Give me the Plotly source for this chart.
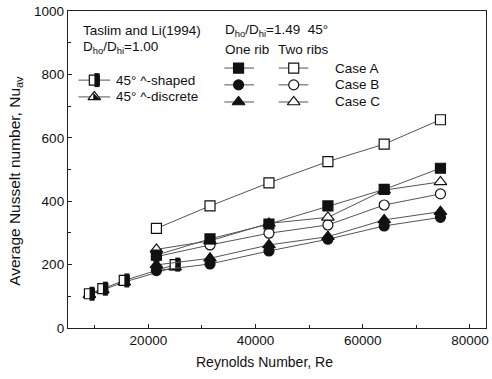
import plotly.graph_objects as go

# ---------------- data ----------------
re_cases = [21500, 31500, 42500, 53500, 64000, 74500]
one_rib_A = [230, 281, 328, 385, 437, 504]
one_rib_B = [181, 202, 243, 280, 322, 349]
one_rib_C = [199, 220, 262, 288, 341, 367]
two_ribs_A = [314, 385, 458, 525, 580, 657]
two_ribs_B = [225, 262, 299, 325, 388, 423]
two_ribs_C = [248, 275, 330, 349, 435, 461]

re_taslim = [9000, 11500, 15500, 25000]
taslim_shaped = [108, 124, 150, 200]
taslim_discrete = [105, 120, 145, 192]

x_ticks = [20000, 40000, 60000, 80000]
y_ticks = [0, 200, 400, 600, 800, 1000]

X_RANGE = [5000, 83000]
Y_RANGE = [0, 1000]

FONT = "Liberation Sans, Arial, sans-serif"
LINE_C = "#555555"
INK = "#111111"

fig = go.Figure()

plot_w_px = 421.5
dx = 2.6 * (X_RANGE[1] - X_RANGE[0]) / plot_w_px


def add_series(x, y, symbol, filled, size=10):
    fig.add_trace(go.Scatter(
        x=x, y=y, mode="lines+markers",
        line=dict(color=LINE_C, width=1),
        marker=dict(symbol=symbol, size=size,
                    color=INK if filled else "white",
                    line=dict(color=INK, width=1.2)),
        showlegend=False, hoverinfo="skip"))


def add_half_square(x, y, xa="x", ya="y", size=10):
    fig.add_trace(go.Scatter(
        x=x, y=y, xaxis=xa, yaxis=ya, mode="markers",
        marker=dict(symbol="square", size=size, color="white",
                    line=dict(color=INK, width=1.2)),
        showlegend=False, hoverinfo="skip"))
    fig.add_trace(go.Scatter(
        x=[v + (dx if xa == "x" else 2.6 / plot_w_px) for v in x], y=y,
        xaxis=xa, yaxis=ya, mode="markers",
        marker=dict(symbol="line-ns", size=size, color=INK,
                    line=dict(color=INK, width=5)),
        showlegend=False, hoverinfo="skip"))


def add_half_triangle(x, y, xa="x", ya="y", size=11):
    fig.add_trace(go.Scatter(
        x=x, y=y, xaxis=xa, yaxis=ya, mode="markers",
        marker=dict(symbol="triangle-up", size=size, color="white",
                    line=dict(color=INK, width=1.2)),
        showlegend=False, hoverinfo="skip"))
    off = (1.0 * (X_RANGE[1] - X_RANGE[0]) / plot_w_px) if xa == "x" else 1.0 / plot_w_px
    fig.add_trace(go.Scatter(
        x=[v + off for v in x], y=y, xaxis=xa, yaxis=ya, mode="markers",
        marker=dict(symbol="triangle-sw", size=size * 0.62, color=INK,
                    line=dict(color=INK, width=0)),
        showlegend=False, hoverinfo="skip"))


# Taslim & Li lines
fig.add_trace(go.Scatter(x=re_taslim, y=taslim_shaped, mode="lines",
                         line=dict(color=LINE_C, width=1),
                         showlegend=False, hoverinfo="skip"))
fig.add_trace(go.Scatter(x=re_taslim, y=taslim_discrete, mode="lines",
                         line=dict(color=LINE_C, width=1),
                         showlegend=False, hoverinfo="skip"))
add_half_triangle(re_taslim, taslim_discrete)
add_half_square(re_taslim, taslim_shaped)

# present cases
add_series(re_cases, two_ribs_A, "square", False)
add_series(re_cases, two_ribs_B, "circle", False)
add_series(re_cases, two_ribs_C, "triangle-up", False, 11)
add_series(re_cases, one_rib_B, "circle", True)
add_series(re_cases, one_rib_C, "triangle-up", True, 11)
add_series(re_cases, one_rib_A, "square", True)

# ---------------- legend (overlay axis, fractions of plot area) ----------------
def legend_line(x0, x1, y):
    fig.add_trace(go.Scatter(x=[x0, x1], y=[y, y], xaxis="x2", yaxis="y2",
                             mode="lines", line=dict(color=LINE_C, width=1),
                             showlegend=False, hoverinfo="skip"))


def legend_marker(x, y, symbol, filled, size=10):
    fig.add_trace(go.Scatter(x=[x], y=[y], xaxis="x2", yaxis="y2", mode="markers",
                             marker=dict(symbol=symbol, size=size,
                                         color=INK if filled else "white",
                                         line=dict(color=INK, width=1.2)),
                             showlegend=False, hoverinfo="skip"))


legend_line(0.025, 0.101, 0.782)
add_half_square([0.063], [0.782], xa="x2", ya="y2")
legend_line(0.025, 0.101, 0.729)
add_half_triangle([0.063], [0.729], xa="x2", ya="y2")

rows_y = [0.820, 0.767, 0.713]
syms = ["square", "circle", "triangle-up"]
for yy, s in zip(rows_y, syms):
    sz = 11 if s == "triangle-up" else 10
    legend_line(0.374, 0.445, yy)
    legend_marker(0.408, yy, s, True, sz)
    legend_line(0.504, 0.575, yy)
    legend_marker(0.540, yy, s, False, sz)

texts = [
    (0.030, 0.938, "Taslim and Li(1994)"),
    (0.030, 0.884, "D<sub>ho</sub>/D<sub>hi</sub>=1.00"),
    (0.111, 0.782, "45° ^-shaped"),
    (0.111, 0.729, "45° ^-discrete"),
    (0.372, 0.938, "D<sub>ho</sub>/D<sub>hi</sub>=1.49  45°"),
    (0.372, 0.877, "One rib"),
    (0.497, 0.877, "Two ribs"),
    (0.635, 0.820, "Case A"),
    (0.635, 0.767, "Case B"),
    (0.635, 0.713, "Case C"),
]
for x, y, t in texts:
    fig.add_annotation(x=x, y=y, xref="paper", yref="paper", text=t,
                       showarrow=False, xanchor="left", yanchor="middle",
                       font=dict(family=FONT, size=13.5, color=INK))

# axis titles (as annotations so they sit where the reference puts them)
fig.add_annotation(x=0.471, y=-0.107, xref="paper", yref="paper",
                   text="Reynolds Number, Re", showarrow=False,
                   xanchor="center", yanchor="middle",
                   font=dict(family=FONT, size=14, color=INK))
fig.add_annotation(x=-0.1246, y=0.464, xref="paper", yref="paper",
                   text="Average Nusselt number, Nu<sub>av</sub>", showarrow=False,
                   textangle=-90, xanchor="center", yanchor="middle",
                   font=dict(family=FONT, size=15.5, color=INK))

axis_common = dict(showgrid=False, zeroline=False, showline=True,
                   linecolor="#222222", linewidth=1.3, mirror=True,
                   ticks="inside", ticklen=4, tickwidth=1, tickcolor="#222222",
                   tickfont=dict(family=FONT, size=13.5, color=INK))

fig.update_layout(
    width=492, height=379,
    margin=dict(l=68, r=3, t=11, b=51),
    paper_bgcolor="white", plot_bgcolor="white",
    showlegend=False,
    xaxis=dict(range=X_RANGE, tickvals=x_ticks,
               ticktext=[str(v) for v in x_ticks],
               minor=dict(tickvals=[10000, 30000, 50000, 70000], ticks="inside",
                          ticklen=3, tickcolor="#222222"),
               **axis_common),
    yaxis=dict(range=Y_RANGE, tickvals=y_ticks,
               ticktext=[str(v) for v in y_ticks],
               minor=dict(tickvals=[100, 300, 500, 700, 900], ticks="inside",
                          ticklen=3, tickcolor="#222222"),
               **axis_common),
    xaxis2=dict(overlaying="x", range=[0, 1], visible=False),
    yaxis2=dict(overlaying="y", range=[0, 1], visible=False),
)

fig.write_html("out.html")
